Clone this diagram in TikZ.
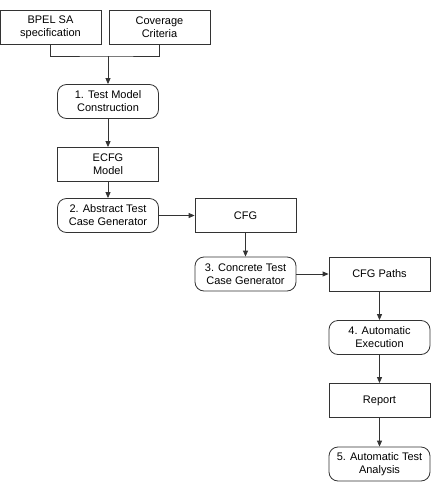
\documentclass[tikz,border=0pt]{standalone}
\usepackage{fontspec}
\setmainfont{Liberation Sans}
\usetikzlibrary{arrows.meta,calc,positioning}
\definecolor{lineCol}{HTML}{333333}
\tikzset{
  artefact/.style={draw=lineCol, line width=0.8pt, minimum width=101pt, minimum height=34pt,
                   font=\fontsize{11}{13}\selectfont, align=center, inner sep=1pt},
  activity/.style={artefact, rounded corners=9pt},
  flow/.style={-{Triangle[length=6pt,width=5pt]}, draw=lineCol, line width=0.8pt},
  mergeline/.style={draw=lineCol, line width=0.8pt},
}
\begin{document}
\begin{tikzpicture}[x=1pt,y=-1pt]
  \useasboundingbox (0,0) rectangle (437,485);
  \def\A{108}\def\B{245.5}\def\C{379.5}
  % inputs
  \node[artefact] (spec) at (50.5,27.5)  {BPEL SA\\specification};
  \node[artefact] (crit) at (159.5,27.5) {Coverage\\Criteria};
  % column 1
  \node[activity] (tmc)  at (\A,101.5) {1. Test Model\\Construction};
  \node[artefact] (ecfg) at (\A,164.5) {ECFG\\Model};
  \node[activity] (atcg) at (\A,215.5) {2. Abstract Test\\Case Generator};
  % column 2
  \node[artefact] (cfg)  at (\B,215.5) {CFG};
  \node[activity] (ctcg) at (\B,274)   {3. Concrete Test\\Case Generator};
  % column 3
  \node[artefact] (path) at (\C,274)   {CFG Paths};
  \node[activity] (exec) at (\C,337.5) {4. Automatic\\Execution};
  \node[artefact] (rep)  at (\C,400.5) {Report};
  \node[activity] (ana)  at (\C,464)   {5. Automatic Test\\Analysis};

  \coordinate (merge) at (\A,56);
  \draw[mergeline] (spec.south) |- (merge) -| (crit.south);
  \draw[flow] (merge) -- (tmc.north);
  \draw[flow] (tmc) -- (ecfg);
  \draw[flow] (ecfg) -- (atcg);
  \draw[flow] (atcg) -- (cfg);
  \draw[flow] (cfg) -- (ctcg);
  \draw[flow] (ctcg) -- (path);
  \draw[flow] (path) -- (exec);
  \draw[flow] (exec) -- (rep);
  \draw[flow] (rep) -- (ana);
\end{tikzpicture}
\end{document}
